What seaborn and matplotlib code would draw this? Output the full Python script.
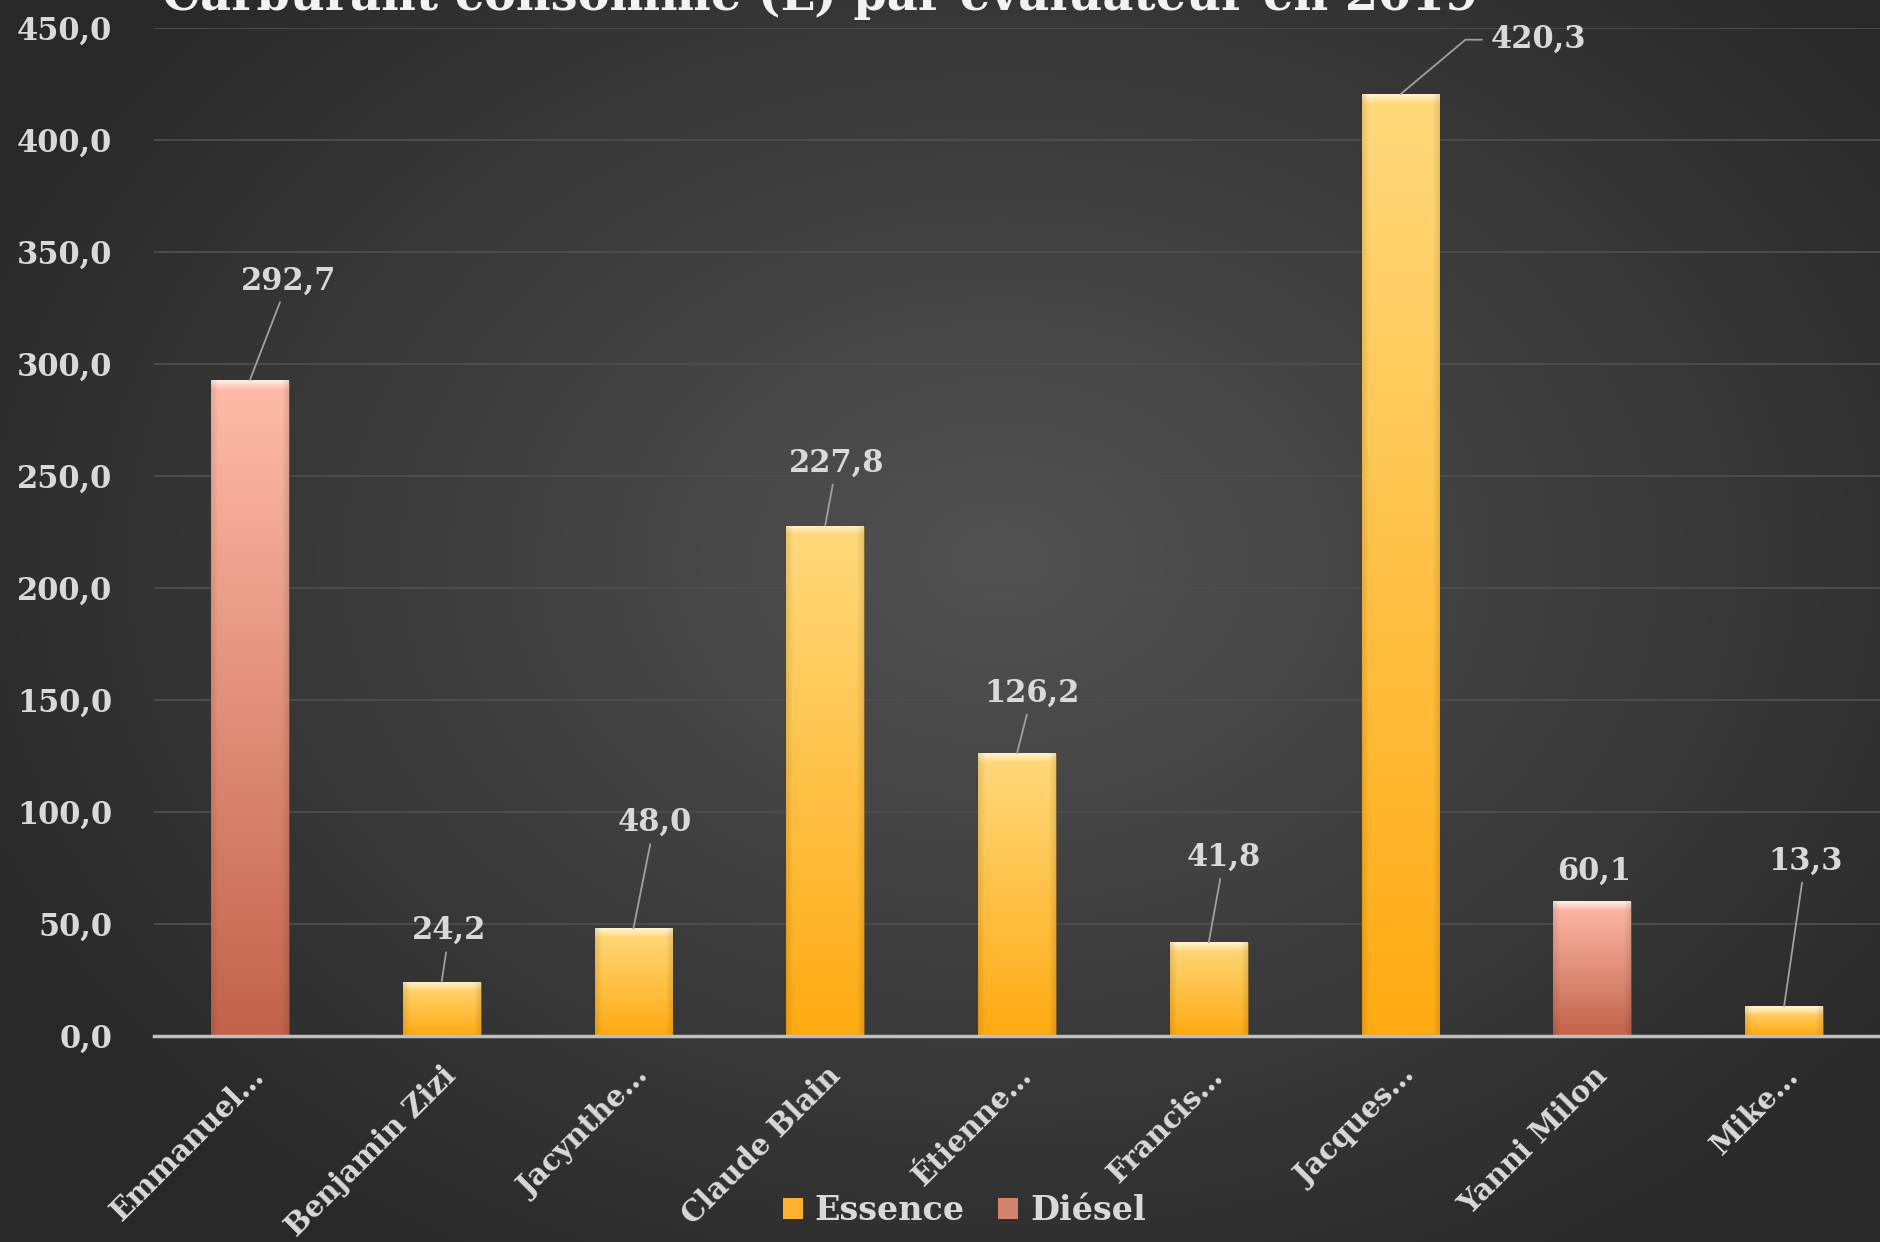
import numpy as np
import pandas as pd
import matplotlib
matplotlib.use("Agg")
import matplotlib.pyplot as plt
import seaborn as sns
from matplotlib.colors import to_rgb

# ---------------- data ----------------
names = ["Emmanuel…", "Benjamin Zizi", "Jacynthe…", "Claude Blain", "Étienne…",
         "Francis…", "Jacques…", "Yanni Milon", "Mike…"]
values = [292.7, 24.2, 48.0, 227.8, 126.2, 41.8, 420.3, 60.1, 13.3]
fuel = ["Diésel", "Essence", "Essence", "Essence", "Essence",
        "Essence", "Essence", "Diésel", "Essence"]
fuel_order = ["Essence", "Diésel"]
yticks = [0, 50, 100, 150, 200, 250, 300, 350, 400, 450]
title = "Carburant consommé (L) par évaluateur en 2019"

# ---------------- styling ----------------
label_dx = [0.20, 0.04, 0.11, 0.06, 0.08, 0.08, 0.47, 0.01, 0.11]
label_dy = [44.3, 22.8, 47.2, 27.9, 26.8, 37.9, 24.3, 13.2, 64.8]
label_ha = ["center"] * 6 + ["left"] + ["center"] * 2
show_leader = [True, True, True, True, True, True, True, False, True]

legend_colors = {"Essence": "#ffb02e", "Diésel": "#d3826b"}
grad = {  # top highlight, top, bottom
    "Essence": ("#fff4d2", "#ffd97c", "#ffaa12"),
    "Diésel": ("#fff0ea", "#ffbcaa", "#c2624a"),
}
txt_col = "#d9d9d9"

sns.set_style("dark")
plt.rcParams["font.family"] = ["DejaVu Serif"]
plt.rcParams["font.weight"] = "bold"

W, H = 1880, 1242
fig = plt.figure(figsize=(W / 100, H / 100), dpi=100)

# background radial gradient
bg = fig.add_axes([0, 0, 1, 1], zorder=-10)
yy, xx = np.mgrid[0:H, 0:W]
r = np.sqrt(((xx - 1000) / 1150.0) ** 2 + ((yy - 560) / 850.0) ** 2)
r = np.clip(r, 0, 1)
c_in, c_out = np.array(to_rgb("#525252")), np.array(to_rgb("#282828"))
img = c_in[None, None, :] * (1 - r[..., None]) + c_out[None, None, :] * r[..., None]
bg.imshow(img, extent=(0, 1, 0, 1), aspect="auto", origin="upper")
bg.axis("off")
fig.patch.set_facecolor("#2e2e2e")

ax = fig.add_axes([154 / W, 1 - 1036 / H, 1 - 154 / W, (1036 - 27.6) / H])
ax.set_facecolor("none")

df = pd.DataFrame({"name": names, "value": values, "fuel": fuel})
sns.barplot(data=df, x="name", y="value", hue="fuel", hue_order=fuel_order,
            palette=legend_colors, dodge=False, width=0.405, ax=ax,
            saturation=1, edgecolor="none")

ax.set_ylim(0, 450)
ax.set_xlim(-0.5, len(names) - 0.5)

# gradient fill inside bars
px_per_unit = (1036 - 27.6) / 450.0
px_per_cat = (W - 154) / len(names)
for p in list(ax.patches):
    h = p.get_height()
    if not np.isfinite(h) or h <= 0:
        continue
    x0, w = p.get_x(), p.get_width()
    idx = int(round(x0 + w / 2))
    hl, top, bot = (np.array(to_rgb(c)) for c in grad[fuel[idx]])
    hpx = max(h * px_per_unit, 2)
    wpx = w * px_per_cat
    nr, nc = int(hpx) + 1, int(wpx) + 1
    t = np.linspace(0, 1, nr)[:, None]
    col = top * (1 - t) + bot * t
    rowpx = np.arange(nr)[:, None]
    hlw = np.clip(1 - rowpx / 9.0, 0, 1)
    col = col * (1 - hlw) + hl * hlw
    cpx = np.arange(nc)
    edge = np.minimum(cpx, nc - 1 - cpx)
    ef = 1 - 0.10 * np.clip(1 - edge / 7.0, 0, 1)
    im = col[:, None, :] * ef[None, :, None]
    im = np.clip(im, 0, 1)
    art = ax.imshow(im, extent=(x0, x0 + w, 0, h), aspect="auto",
                    origin="upper", interpolation="bilinear", zorder=3)
    art.set_clip_path(p)
    p.set_edgecolor((0, 0, 0, 0.18))
    p.set_linewidth(0.8)

ax.set_ylim(0, 450)
ax.set_xlim(-0.5, len(names) - 0.5)

# data labels
for i, v in enumerate(values):
    tx, ty = i + label_dx[i], v + label_dy[i]
    if label_ha[i] == "left":
        ap = dict(arrowstyle="-", color="#a0a0a0", lw=1.3,
                  connectionstyle="angle,angleA=0,angleB=40,rad=0",
                  shrinkA=4, shrinkB=0)
    elif show_leader[i]:
        ap = dict(arrowstyle="-", color="#a0a0a0", lw=1.3, shrinkA=2, shrinkB=0)
    else:
        ap = None
    ax.annotate(f"{v:.1f}".replace(".", ","), xy=(i, v), xytext=(tx, ty),
                ha=label_ha[i], va="center", fontsize=22, fontweight="bold",
                color=txt_col, arrowprops=ap, zorder=6)

# axes styling
ax.set_yticks(yticks)
ax.set_yticklabels([f"{t:.1f}".replace(".", ",") for t in yticks],
                   fontsize=22, color=txt_col, fontweight="bold")
ax.set_xticks(range(len(names)))
ax.set_xticklabels(names, rotation=45, ha="right", rotation_mode="anchor",
                   fontsize=21, color=txt_col, fontweight="bold")
ax.tick_params(axis="both", length=0)
ax.tick_params(axis="x", pad=18)
ax.tick_params(axis="y", pad=30)
ax.set_xlabel("")
ax.set_ylabel("")
ax.grid(axis="y", color="#4e4e4e", lw=1.3)
ax.grid(axis="x", visible=False)
ax.set_axisbelow(True)
for s in ["top", "right", "left"]:
    ax.spines[s].set_visible(False)
ax.spines["bottom"].set_color("#bfbfbf")
ax.spines["bottom"].set_linewidth(2.5)
ax.spines["bottom"].set_zorder(5)

sns.move_legend(ax, "lower center", bbox_to_anchor=(0.513, -0.004),
                bbox_transform=fig.transFigure, ncol=2, frameon=False,
                title=None, fontsize=24, handlelength=0.6, handleheight=0.6,
                columnspacing=1.0, handletextpad=0.35, borderaxespad=0.2)
for t in ax.get_legend().get_texts():
    t.set_color(txt_col)
    t.set_fontweight("bold")

fig.text(162 / W, 1 - 10 / H, title, ha="left", va="baseline",
         fontsize=34.5, fontweight="bold", color="#f2f2f2")

fig.savefig("out.png", dpi=100, facecolor=fig.get_facecolor())
